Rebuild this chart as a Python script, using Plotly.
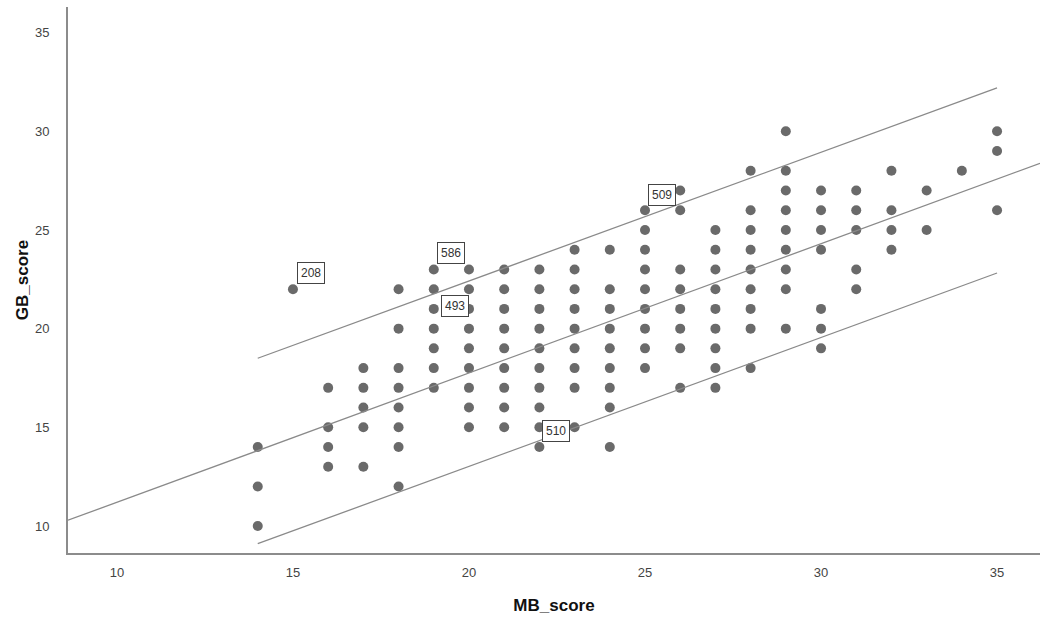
import plotly.graph_objects as go

# ---- data ----
mb_values = [14, 15, 16, 17, 18, 19, 20, 21, 22, 23, 24, 25, 26, 27, 28, 29, 30, 31, 32, 33, 34, 35]
gb_by_mb = [
    [14, 12, 10],
    [22],
    [17, 15, 14, 13],
    [18, 17, 16, 15, 13],
    [22, 20, 18, 17, 16, 15, 14, 12],
    [23, 22, 21, 20, 19, 18, 17],
    [23, 22, 21, 20, 19, 18, 17, 16, 15],
    [23, 22, 21, 20, 19, 18, 17, 16, 15],
    [23, 22, 21, 20, 19, 18, 17, 16, 15, 14],
    [24, 23, 22, 21, 20, 19, 18, 17, 15],
    [24, 22, 21, 20, 19, 18, 17, 16, 14],
    [26, 25, 24, 23, 22, 21, 20, 19, 18],
    [27, 26, 23, 22, 21, 20, 19, 17],
    [25, 24, 23, 22, 21, 20, 19, 18, 17],
    [28, 26, 25, 24, 23, 22, 21, 20, 18],
    [30, 28, 27, 26, 25, 24, 23, 22, 20],
    [27, 26, 25, 24, 21, 20, 19],
    [27, 26, 25, 23, 22],
    [28, 26, 25, 24],
    [27, 25],
    [28],
    [30, 29, 26],
]

# fit line and 95% individual prediction limits (endpoints)
fit_x = [8.61, 36.22]
fit_y = [10.29, 28.38]
upper_x = [14, 35]
upper_y = [18.5, 32.2]
lower_x = [14, 35]
lower_y = [9.1, 22.82]

# labelled cases
label_ids = ["208", "586", "493", "509", "510"]
label_mb = [15, 19, 19, 25, 22]
label_gb = [22, 23, 21, 26, 14]

x_ticks = [10, 15, 20, 25, 30, 35]
y_ticks = [10, 15, 20, 25, 30, 35]

# ---- build ----
mb_score = []
gb_score = []
for mb, gbs in zip(mb_values, gb_by_mb):
    for g in gbs:
        mb_score.append(mb)
        gb_score.append(g)

FONT = "Liberation Sans, Arial, sans-serif"
LINE_COLOR = "#8a8a8a"

fig = go.Figure()
fig.add_trace(go.Scatter(
    x=mb_score, y=gb_score, mode="markers",
    marker=dict(size=10, color="#6a6a6a", line=dict(width=0)),
    showlegend=False, hoverinfo="x+y",
))
for xs, ys in [(fit_x, fit_y), (upper_x, upper_y), (lower_x, lower_y)]:
    fig.add_trace(go.Scatter(
        x=xs, y=ys, mode="lines",
        line=dict(color=LINE_COLOR, width=1.3),
        showlegend=False, hoverinfo="skip",
    ))

label_shift = {"208": (18, 16), "586": (17, 16), "493": (21, 3), "509": (17, 15), "510": (17, 16)}
for lid, lx, ly in zip(label_ids, label_mb, label_gb):
    dx, dy = label_shift[lid]
    fig.add_annotation(
        x=lx, y=ly, xref="x", yref="y", text=lid, showarrow=False,
        xshift=dx, yshift=dy,
        font=dict(family=FONT, size=12, color="#333333"),
        bgcolor="white", bordercolor="#444444", borderwidth=1, borderpad=3,
    )

fig.update_layout(
    width=1040, height=622,
    margin=dict(l=68, r=0, t=7, b=69),
    paper_bgcolor="white", plot_bgcolor="white",
    font=dict(family=FONT, color="#444444"),
    showlegend=False,
)
fig.update_xaxes(
    range=[8.61, 36.22], tickvals=x_ticks, ticktext=[str(t) for t in x_ticks],
    showgrid=False, zeroline=False, showline=True, linecolor="#8c8c8c", linewidth=2,
    ticks="outside", ticklen=6, tickcolor="rgba(0,0,0,0)",
    tickfont=dict(family=FONT, size=13, color="#444444"),
    title=dict(text="<b>MB_score</b>", font=dict(family=FONT, size=17, color="#111111"), standoff=21),
    automargin=False,
)
fig.update_yaxes(
    range=[8.63, 36.3], tickvals=y_ticks, ticktext=[str(t) for t in y_ticks],
    showgrid=False, zeroline=False, showline=True, linecolor="#8c8c8c", linewidth=2,
    ticks="outside", ticklen=14, tickcolor="rgba(0,0,0,0)",
    tickfont=dict(family=FONT, size=13, color="#444444"),
    title=dict(text="<b>GB_score</b>", font=dict(family=FONT, size=17, color="#111111"), standoff=2),
    automargin=False,
)

fig.write_html(
    "out.html",
    config={"displayModeBar": False},
    post_script="document.body.style.margin='0';document.body.style.overflow='hidden';",
)
